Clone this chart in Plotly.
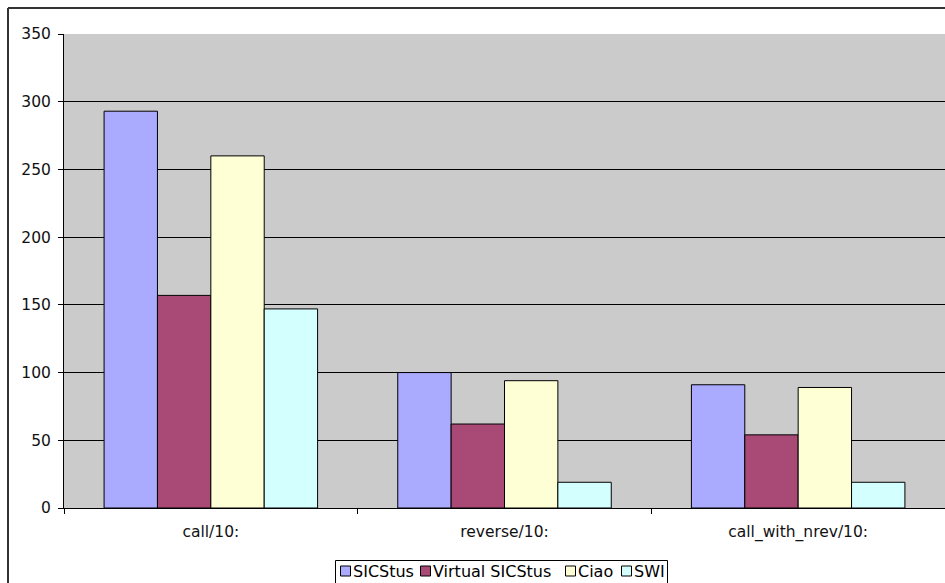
import plotly.graph_objects as go

# Benchmark timings per Prolog system
categories = ["call/10:", "reverse/10:", "call_with_nrev/10:"]
sicstus = [293, 100, 91]
virtual_sicstus = [157, 62, 54]
ciao = [260, 94, 89]
swi = [147, 19, 19]

series_names = ["SICStus", "Virtual SICStus", "Ciao", "SWI"]
series_values = [sicstus, virtual_sicstus, ciao, swi]
series_colors = ["#AAAAFF", "#A94A76", "#FFFFD5", "#D4FFFF"]

W, H = 945, 583
ML, MR, MT, MB = 64, 0, 34, 75
pw = W - ML - MR
ph = H - MT - MB


def px_x(x):
    return (x - ML) / pw


def px_y(y):
    return (H - MB - y) / ph


FONT_FAMILY = "DejaVu Sans, Verdana, sans-serif"
font = dict(family=FONT_FAMILY, size=15.5, color="#111111")

fig = go.Figure()
for name, vals, color in zip(series_names, series_values, series_colors):
    fig.add_trace(go.Bar(
        name=name, x=categories, y=vals,
        marker=dict(color=color, line=dict(color="#000000", width=1)),
        showlegend=False,
    ))

fig.update_layout(
    width=W, height=H,
    margin=dict(l=ML, r=MR, t=MT, b=MB, autoexpand=False),
    paper_bgcolor="#FFFFFF",
    plot_bgcolor="#CBCBCB",
    barmode="group",
    bargap=0.273,
    bargroupgap=0,
    font=font,
    xaxis=dict(
        showline=True, linecolor="#000000", linewidth=1,
        ticks="outside", ticklen=5, tickcolor="#000000",
        tickson="boundaries",
        showgrid=False,
        tickfont=font,
        ticklabelstandoff=9,
        fixedrange=True,
    ),
    yaxis=dict(
        range=[0, 350], dtick=50, tick0=0,
        showline=True, linecolor="#000000", linewidth=1,
        ticks="outside", ticklen=5, tickcolor="#000000",
        showgrid=True, gridcolor="#000000", gridwidth=1,
        zeroline=False,
        tickfont=font,
        ticklabelstandoff=4,
        fixedrange=True,
    ),
)

# Outer chart border (left and top edges)
bx, by = px_x(8), px_y(8)
fig.add_shape(type="line", xref="paper", yref="paper",
              x0=bx, x1=bx, y0=by, y1=-1,
              line=dict(color="#333333", width=2))
fig.add_shape(type="line", xref="paper", yref="paper",
              x0=bx, x1=2, y0=by, y1=by,
              line=dict(color="#333333", width=2))

# Legend box with swatches below the plot
fig.add_shape(type="rect", xref="paper", yref="paper",
              x0=px_x(335.5), x1=px_x(667.5), y0=px_y(560.5), y1=px_y(600),
              line=dict(color="#000000", width=1), fillcolor="#FFFFFF")
swatch_left = [340, 420, 565, 621]
text_y = 571
for name, color, sx in zip(series_names, series_colors, swatch_left):
    fig.add_shape(type="rect", xref="paper", yref="paper",
                  x0=px_x(sx + 0.5), x1=px_x(sx + 10.5),
                  y0=px_y(text_y - 5), y1=px_y(text_y + 5),
                  line=dict(color="#000000", width=1), fillcolor=color)
    fig.add_annotation(xref="paper", yref="paper",
                       x=px_x(sx + 11), y=px_y(text_y),
                       xanchor="left", yanchor="middle",
                       text=name, showarrow=False,
                       font=dict(family=FONT_FAMILY, size=16, color="#000000"))

fig.write_html("out.html")
